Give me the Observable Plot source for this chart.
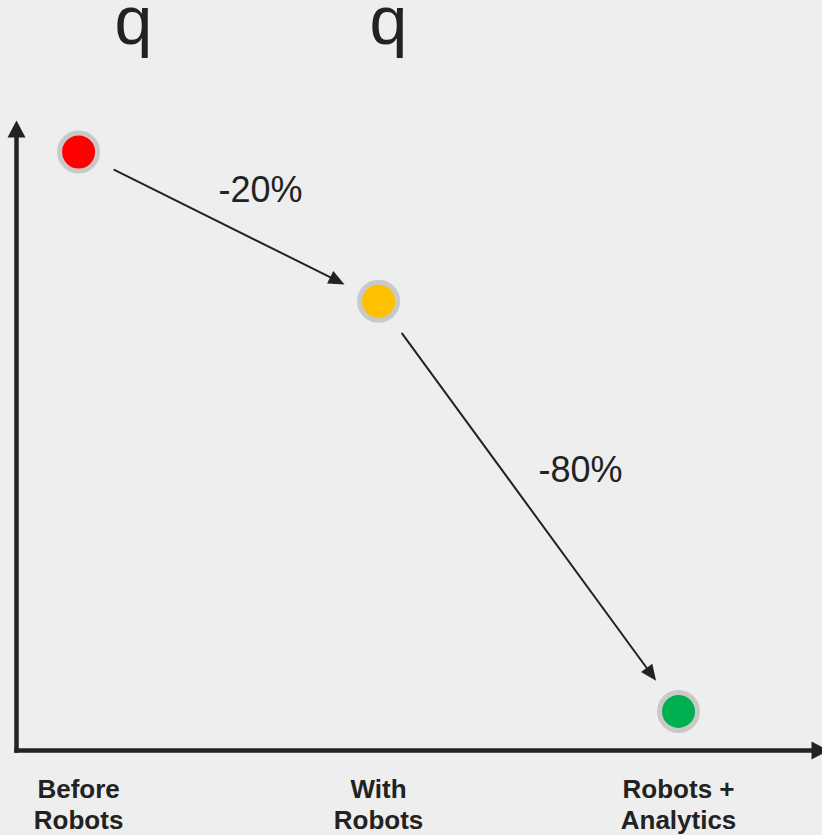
<!DOCTYPE html>
<html><head><meta charset="utf-8">
<script src="https://cdn.jsdelivr.net/npm/d3@7"></script>
<script src="https://cdn.jsdelivr.net/npm/@observablehq/plot@0.6"></script>
<style>html,body{margin:0;padding:0;background:#eeeeee;overflow:hidden}</style>
</head><body><div id="chart"></div>
<script>
// Data
const categories = ["Before\nRobots", "With\nRobots", "Robots +\nAnalytics"];
const values = [95, 71.3, 6.2];          // relative level (0–100)
const changeLabels = ["-20%", "-80%"];
const titleLetters = ["q", "q"];
const dotColors = ["#ff0000", "#ffc000", "#00b050"];

// Axis extents (data units)
const xMin = -0.207, xMax = 2.5, yMax = 100;

const points = categories.map((c, i) => ({i, category: c, value: values[i]}));
const steps = changeLabels.map((label, i) => ({
  label, x1: i, y1: values[i], x2: i + 1, y2: values[i + 1],
  xm: i + 0.5, ym: (values[i] + values[i + 1]) / 2
}));

const ink = "#222222";

const chart = Plot.plot({
  width: 822, height: 835,
  marginLeft: 16, marginRight: 0, marginTop: 120, marginBottom: 85,
  style: {background: "#eeeeee", fontFamily: "'Liberation Sans', Arial, Helvetica, sans-serif", color: ink, overflow: "visible"},
  x: {domain: [xMin, xMax], range: [16, 828], axis: null},
  y: {domain: [0, yMax], axis: null},
  color: {domain: categories, range: dotColors},
  marks: [
    // axes (arrow groups 0 and 1)
    Plot.arrow([0], {x1: xMin, y1: 0, x2: xMin, y2: yMax, stroke: ink, strokeWidth: 4.5, headLength: 4.7, strokeLinecap: "square"}),
    Plot.arrow([0], {x1: xMin, y1: 0, x2: xMax, y2: 0, stroke: ink, strokeWidth: 4.5, headLength: 4.7, strokeLinecap: "square"}),
    // step arrows between points (arrow group 2)
    Plot.arrow(steps, {x1: "x1", y1: "y1", x2: "x2", y2: "y2", insetStart: 40, insetEnd: 38, stroke: ink, strokeWidth: 2}),
    // points
    Plot.dot(points, {x: "i", y: "value", r: 19, fill: "category", stroke: "#c9c9c9", strokeWidth: 5}),
    // change labels
    Plot.text([steps[0]], {x: "xm", y: "ym", text: "label", dx: 32, dy: -36, fontSize: 36, fill: ink}),
    Plot.text([steps[1]], {x: "xm", y: "ym", text: "label", dx: 52, dy: -35.5, fontSize: 36, fill: ink}),
    // category labels
    Plot.text(points, {x: "i", text: "category", frameAnchor: "bottom", lineAnchor: "top", dy: 25.5, fontSize: 26, fontWeight: "bold", lineHeight: 1.2, fill: ink}),
    // title letters
    Plot.text([titleLetters[0]], {text: d => d, frameAnchor: "top-left", textAnchor: "middle", lineAnchor: "bottom", dx: 117, dy: -77, fontSize: 68, fill: ink}),
    Plot.text([titleLetters[1]], {text: d => d, frameAnchor: "top-left", textAnchor: "middle", lineAnchor: "bottom", dx: 372, dy: -77, fontSize: 68, fill: ink})
  ]
});

// Replace Plot's open arrow heads with filled triangles, using the pixel ends Plot computed
function solidHeads(group, len, half) {
  d3.select(group).selectAll("path").each(function () {
    const n = (this.getAttribute("d") || "").match(/-?\d*\.?\d+(?:e[-+]?\d+)?/gi);
    if (!n || n.length < 4) return;
    const [x1, y1, x2, y2] = n.map(Number);
    const dx = x2 - x1, dy = y2 - y1, L = Math.hypot(dx, dy), ux = dx / L, uy = dy / L;
    const bx = x2 - ux * len, by = y2 - uy * len;
    this.setAttribute("d", `M${x1},${y1}L${bx + ux * 2},${by + uy * 2}`);
    d3.select(this.parentNode).append("path")
      .attr("d", `M${x2},${y2}L${bx - uy * half},${by + ux * half}L${bx + uy * half},${by - ux * half}Z`)
      .attr("fill", ink).attr("stroke", "none");
  });
}
const arrowGroups = chart.querySelectorAll('g[aria-label="arrow"]');
if (arrowGroups.length >= 3) {
  solidHeads(arrowGroups[0], 17, 9);
  solidHeads(arrowGroups[1], 17, 9);
  solidHeads(arrowGroups[2], 16, 7);
}

document.getElementById("chart").append(chart);
</script>
</body></html>
